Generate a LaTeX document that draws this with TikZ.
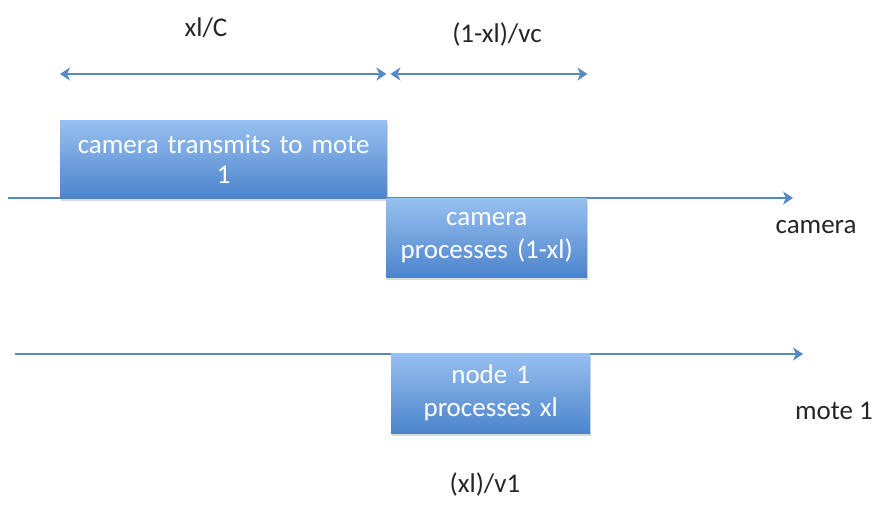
\documentclass[tikz,border=0pt]{standalone}
\usepackage{fontspec}
\setmainfont{Carlito}
\usetikzlibrary{arrows.meta}
\usetikzlibrary{shadows}
\definecolor{axisblue}{RGB}{86,136,196}
\definecolor{boxtop}{RGB}{152,192,240}
\definecolor{boxbot}{RGB}{76,132,204}
\def\camY{198}
\def\moteY{354}
\def\dimY{74}

\begin{document}
\begin{tikzpicture}[
    x=1pt,y=-1pt,
    font=\fontsize{27}{33}\selectfont,
    arrowtip/.style={
      -{Stealth[length=10pt,width=13pt,inset=3pt]}
    },
    axis/.style={
      draw=axisblue,line width=2.6pt,arrowtip
    },
    dimline/.style={
      draw=axisblue,line width=2.8pt,
      {Stealth[length=10pt,width=13pt,inset=3pt]}-{Stealth[length=10pt,width=13pt,inset=3pt]}
    },
    task/.style={
      anchor=north west,inner sep=2pt,
      top color=boxtop,bottom color=boxbot,text=white,align=center,
      drop shadow={opacity=0.3,shadow xshift=1pt,shadow yshift=-3pt}
    },
    label/.style={
      text=black!85
    }
  ]
    \useasboundingbox (0,0) rectangle (877,504);

    % time axes
    \coordinate (CamStart)  at (8,\camY);
    \coordinate (CamEnd)    at (793,\camY);
    \coordinate (MoteStart) at (15,\moteY);
    \coordinate (MoteEnd)   at (803,\moteY);
    \draw[axis] (CamStart)  -- (CamEnd);
    \draw[axis] (MoteStart) -- (MoteEnd);

    \node[label] (CamName)  at (816,227) { camera };
    \node[label] (MoteName) at (834,411) { mote 1 };

    % tasks
    \node[task,minimum width=327pt,minimum height=78pt,text width=322pt] (Tx)   at (60,120)
      { \raisebox{-3pt}{camera transmits to mote}\\1 };
    \node[task,minimum width=201pt,minimum height=79pt,text width=196pt] (CamP) at (386,\camY)
      { camera\\processes (1-xl) };
    \node[task,minimum width=199pt,minimum height=80pt,text width=194pt] (MoteP) at (391,353)
      { node 1\\processes xl };

    % durations
    \coordinate (DimA) at (Tx.north west   |- 0,\dimY);
    \coordinate (DimB) at (Tx.north east   |- 0,\dimY);
    \coordinate (DimC) at (CamP.north east |- 0,\dimY);
    \draw[dimline] (DimA) -- ([xshift=-1pt]DimB);
    \draw[dimline] ([xshift=3pt]DimB) -- (DimC);

    \node[label] (TxTime)   at (206,28)  { xl/C };
    \node[label] (CamTime)  at (497,34)  { (1-xl)/vc };
    \node[label] (MoteTime) at (485,484) { (xl)/v1 };
  \end{tikzpicture}
\end{document}
